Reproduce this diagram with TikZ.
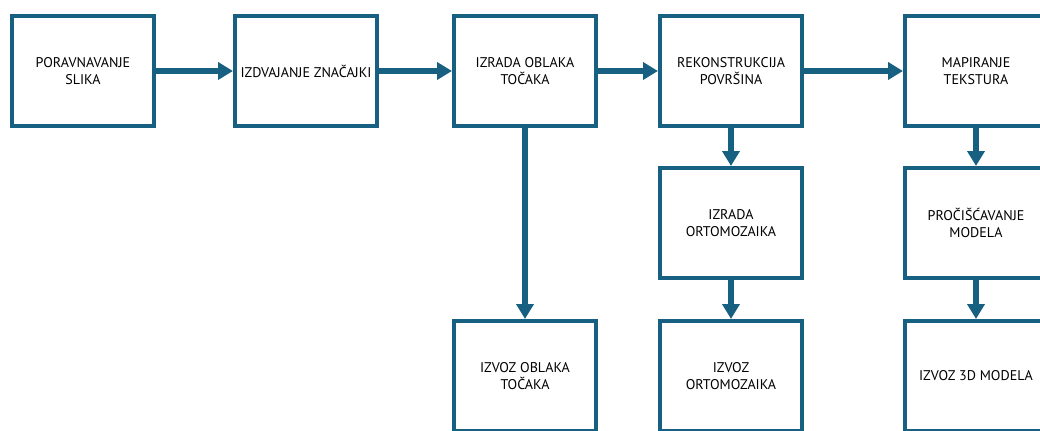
\documentclass[tikz,border=0pt]{standalone}
\usepackage{fontspec}
\setmainfont{PT Sans}
\usetikzlibrary{arrows.meta}
\definecolor{flowblue}{RGB}{24,96,130}
\begin{document}
\begin{tikzpicture}[x=0.025cm,y=-0.025cm,
  stage/.style={draw=flowblue,line width=0.1cm,fill=white,minimum width=3.55cm,
    minimum height=2.75cm,inner sep=2pt,align=center,font=\fontsize{10}{12.5}\selectfont},
  flow/.style={draw=flowblue,line width=0.15cm,-{Triangle[length=0.37cm,width=0.42cm]}}]
\useasboundingbox (0,0) rectangle (1040,431);

% top row
\node[stage] (align) at (83,71) {PORAVNAVANJE\\SLIKA};
\node[stage] (features) at (306,71) {IZDVAJANJE ZNAČAJKI};
\node[stage] (cloud) at (525,71) {IZRADA OBLAKA\\TOČAKA};
\node[stage] (surface) at (731,71) {REKONSTRUKCIJA\\POVRŠINA};
\node[stage] (texture) at (976,71) {MAPIRANJE\\TEKSTURA};

% middle row
\node[stage] (ortho) at (731,223) {IZRADA\\ORTOMOZAIKA};
\node[stage] (refine) at (976,223) {PROČIŠĆAVANJE\\MODELA};

% bottom row
\node[stage] (cloudout) at (525,376) {IZVOZ OBLAKA\\TOČAKA};
\node[stage] (orthoout) at (731,376) {IZVOZ\\ORTOMOZAIKA};
\node[stage] (modelout) at (976,376) {IZVOZ 3D MODELA};

\draw[flow] (align.east) -- (features.west);
\draw[flow] (features.east) -- (cloud.west);
\draw[flow] (cloud.east) -- (surface.west);
\draw[flow] (surface.east) -- (texture.west);

\draw[flow] (cloud.south) -- (cloudout.north);
\draw[flow] (surface.south) -- (ortho.north);
\draw[flow] (ortho.south) -- (orthoout.north);
\draw[flow] (texture.south) -- (refine.north);
\draw[flow] (refine.south) -- (modelout.north);
\end{tikzpicture}
\end{document}
